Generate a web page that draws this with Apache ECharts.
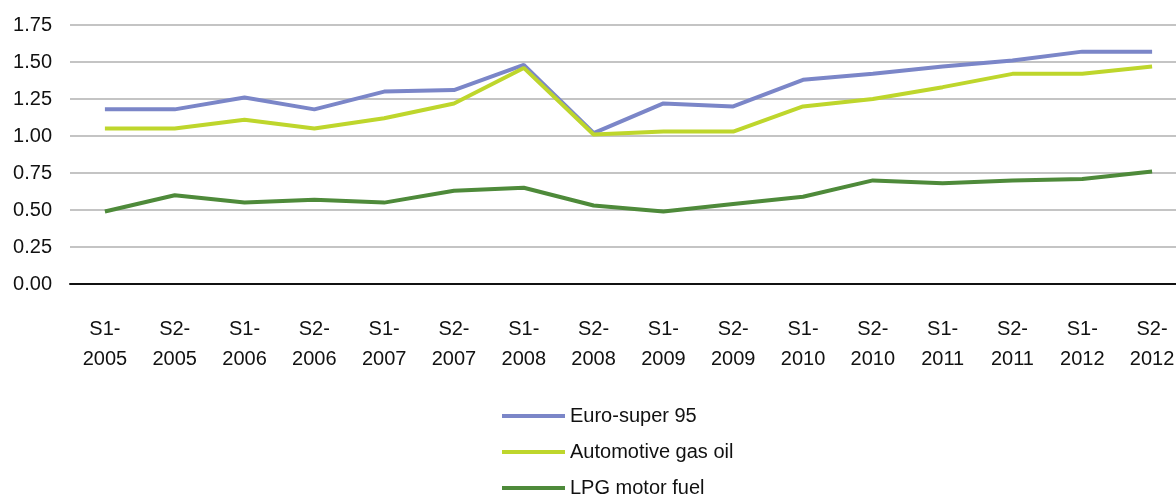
<!DOCTYPE html>
<html>
<head>
<meta charset="utf-8">
<script src="https://cdn.jsdelivr.net/npm/echarts@6/dist/echarts.min.js"></script>
<style>
  html, body { margin: 0; padding: 0; background: #fff; }
  #chart { width: 1176px; height: 498px; }
</style>
</head>
<body>
<div id="chart"></div>
<script>
// periods (half-years)
var periods = ['S1-\n2005', 'S2-\n2005', 'S1-\n2006', 'S2-\n2006', 'S1-\n2007', 'S2-\n2007', 'S1-\n2008', 'S2-\n2008',
  'S1-\n2009', 'S2-\n2009', 'S1-\n2010', 'S2-\n2010', 'S1-\n2011', 'S2-\n2011', 'S1-\n2012', 'S2-\n2012']
var euroSuper95 = [1.18, 1.18, 1.26, 1.18, 1.30, 1.31, 1.48, 1.02, 1.22, 1.20, 1.38, 1.42, 1.47, 1.51, 1.57, 1.57]
var gasOil = [1.05, 1.05, 1.11, 1.05, 1.12, 1.22, 1.46, 1.01, 1.03, 1.03, 1.20, 1.25, 1.33, 1.42, 1.42, 1.47]
var lpg = [0.49, 0.60, 0.55, 0.57, 0.55, 0.63, 0.65, 0.53, 0.49, 0.54, 0.59, 0.70, 0.68, 0.70, 0.71, 0.76]

var font = 'Liberation Sans, Arial, sans-serif'

var chart = echarts.init(document.getElementById('chart'))

function line(name, data, color) {
  return {
    name: name,
    type: 'line',
    data: data,
    symbol: 'none',
    lineStyle: { color: color, width: 4 },
    itemStyle: { color: color },
    animation: false
  }
}

var option = {
  animation: false,
  // the plot runs a little past the right edge in the original
  grid: { left: 70, top: 25, width: 1117, height: 259, outerBoundsMode: 'none', containLabel: false },
  legend: {
    orient: 'vertical',
    left: 497,
    top: 401,
    height: 120,
    itemWidth: 63,
    itemHeight: 4,
    itemGap: 16,
    icon: 'rect',
    textStyle: { fontFamily: font, fontSize: 20, color: '#111' },
    data: ['Euro-super 95', 'Automotive gas oil', 'LPG motor fuel']
  },
  xAxis: {
    type: 'category',
    data: periods,
    axisLine: { lineStyle: { color: '#111', width: 2 } },
    axisTick: { length: 9, lineStyle: { color: '#111', width: 2 } },
    axisLabel: { fontFamily: font, fontSize: 20, color: '#111', lineHeight: 30, margin: 30 }
  },
  yAxis: {
    type: 'value',
    min: 0,
    max: 1.75,
    interval: 0.25,
    axisLine: { show: false },
    axisTick: { show: false },
    splitLine: { lineStyle: { color: '#c4c4c4', width: 2 } },
    axisLabel: {
      fontFamily: font, fontSize: 20, color: '#111', margin: 18,
      formatter: function (v) { return v.toFixed(2) }
    }
  },
  series: [
    line('Euro-super 95', euroSuper95, '#7b86c8'),
    line('Automotive gas oil', gasOil, '#bed62c'),
    line('LPG motor fuel', lpg, '#4e8a3a')
  ]
}
chart.setOption(option)
</script>
</body>
</html>
